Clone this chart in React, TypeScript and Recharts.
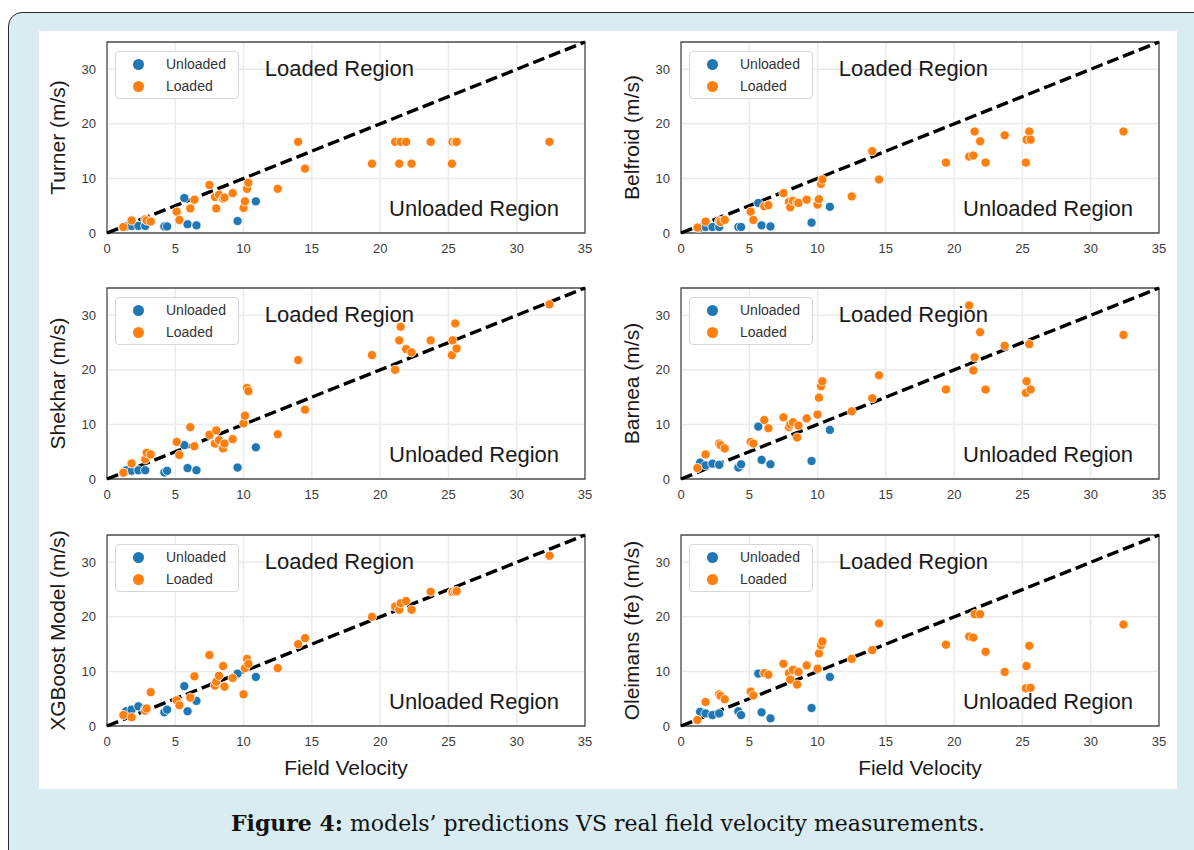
import React from "react";
import {
  CartesianGrid,
  Legend,
  ReferenceArea,
  ReferenceDot,
  ReferenceLine,
  Scatter,
  ScatterChart,
  XAxis,
  YAxis,
} from "recharts";

// field velocity (shared by every model)
const velocityUnloaded = [1.4, 1.8, 2.3, 2.8, 4.2, 4.4, 5.66, 5.9, 6.55, 9.56, 10.9];
const velocityLoaded = [
  1.2, 1.8, 2.8, 2.9, 3.2, 5.1, 5.3, 6.1, 6.4, 7.5, 7.9, 8.0, 8.2, 8.5, 8.6, 9.2, 10.0, 10.1, 10.25, 10.35,
  12.5, 14.0, 14.5, 19.4, 21.1, 21.4, 21.5, 21.9, 22.3, 23.7, 25.25, 25.3, 25.5, 25.6, 32.4,
];

// model predictions
const turnerUnloaded = [1.2, 1.3, 1.3, 1.3, 1.2, 1.2, 6.4, 1.6, 1.4, 2.2, 5.8];
const turnerLoaded = [
  1.1, 2.3, 2.5, 2.3, 2.1, 3.9, 2.4, 4.5, 6.1, 8.8, 6.6, 4.5, 7.0, 6.3, 6.5, 7.3, 4.6, 5.8, 8.1, 9.2,
  8.1, 16.7, 11.8, 12.7, 16.7, 12.7, 16.7, 16.7, 12.7, 16.7, 12.7, 16.7, 16.7, 16.7, 16.7,
];
const belfroidUnloaded = [1.0, 1.1, 1.1, 1.1, 1.1, 1.1, 5.5, 1.4, 1.2, 1.9, 4.8];
const belfroidLoaded = [
  1.0, 2.1, 2.2, 2.0, 2.4, 3.9, 2.4, 4.9, 5.1, 7.3, 5.7, 4.7, 5.9, 5.6, 5.5, 6.1, 5.2, 6.2, 9.0, 9.8,
  6.7, 15.0, 9.8, 12.9, 14.0, 14.2, 18.6, 16.8, 12.9, 17.9, 12.9, 17.1, 18.6, 17.1, 18.6,
];
const shekharUnloaded = [1.6, 1.5, 1.6, 1.6, 1.2, 1.5, 6.2, 2.0, 1.6, 2.1, 5.8];
const shekharLoaded = [
  1.15, 2.85, 3.6, 4.8, 4.5, 6.8, 4.4, 9.5, 6.0, 8.1, 6.5, 8.9, 7.1, 5.6, 6.5, 7.3, 10.2, 11.6, 16.7, 16.1,
  8.2, 21.8, 12.7, 22.7, 20.0, 25.4, 27.9, 23.8, 23.2, 25.4, 22.7, 25.4, 28.5, 23.9, 32.0,
];
const barneaUnloaded = [3.0, 2.5, 2.8, 2.6, 2.1, 2.7, 9.6, 3.5, 2.7, 3.3, 9.0];
const barneaLoaded = [
  2.0, 4.5, 6.5, 6.2, 5.6, 6.8, 6.5, 10.8, 9.3, 11.3, 9.5, 10.0, 10.4, 7.6, 9.8, 11.1, 11.8, 14.9, 17.0, 17.9,
  12.4, 14.8, 19.0, 16.4, 31.8, 19.9, 22.3, 26.9, 16.4, 24.4, 15.8, 17.9, 24.7, 16.4, 26.4,
];
const xgbUnloaded = [2.7, 3.0, 3.6, 3.2, 2.5, 3.0, 7.3, 2.7, 4.6, 9.6, 9.0];
const xgbLoaded = [
  2.0, 1.6, 2.8, 3.2, 6.2, 4.7, 3.8, 5.2, 9.1, 13.0, 7.4, 8.1, 9.2, 11.0, 7.2, 8.8, 5.8, 10.6, 12.3, 11.4,
  10.6, 15.0, 16.1, 20.0, 21.9, 21.3, 22.5, 22.9, 21.3, 24.6, 24.5, 24.6, 24.6, 24.7, 31.2,
];
const oleimansUnloaded = [2.6, 2.3, 2.0, 2.3, 2.7, 2.0, 9.6, 2.5, 1.4, 3.3, 9.0];
const oleimansLoaded = [
  1.1, 4.4, 5.8, 5.5, 4.9, 6.3, 5.6, 9.7, 9.4, 11.4, 9.7, 8.5, 10.3, 7.6, 9.9, 11.1, 10.5, 13.3, 14.8, 15.5,
  12.3, 13.9, 18.8, 14.9, 16.4, 16.2, 20.5, 20.5, 13.6, 9.9, 6.9, 11.0, 14.7, 7.0, 18.6,
];

const xTicks = [0, 5, 10, 15, 20, 25, 30, 35];
const yTicks = [0, 10, 20, 30];
const legendOrder = ["Unloaded", "Loaded"];

const BLUE = "#1f77b4";
const ORANGE = "#ff7f0e";
const SANS = "'Liberation Sans', Arial, sans-serif";

const toPoints = (xs: number[], ys: number[]) => xs.map((x, i) => ({ x, y: ys[i] }));

const panels = [
  { title: "Turner (m/s)", unloaded: turnerUnloaded, loaded: turnerLoaded, left: 107, top: 42, bottom: false },
  { title: "Belfroid (m/s)", unloaded: belfroidUnloaded, loaded: belfroidLoaded, left: 681, top: 42, bottom: false },
  { title: "Shekhar (m/s)", unloaded: shekharUnloaded, loaded: shekharLoaded, left: 107, top: 288, bottom: false },
  { title: "Barnea (m/s)", unloaded: barneaUnloaded, loaded: barneaLoaded, left: 681, top: 288, bottom: false },
  { title: "XGBoost Model (m/s)", unloaded: xgbUnloaded, loaded: xgbLoaded, left: 107, top: 535, bottom: true },
  { title: "Oleimans (fe) (m/s)", unloaded: oleimansUnloaded, loaded: oleimansLoaded, left: 681, top: 535, bottom: true },
];

const PLOT_W = 478;
const PLOT_H = 191;
const PAD_L = 70;
const PAD_T = 10;

const dot = (color: string) => (p: any) => (
  <circle cx={p.cx} cy={p.cy} r={4.6} fill={color} stroke="#fff" strokeWidth={0.8} />
);

const YTitle = ({ viewBox, text }: any) => {
  const x = viewBox.x + 20;
  const y = viewBox.y + viewBox.height / 2;
  return (
    <text x={x} y={y} transform={`rotate(-90, ${x}, ${y})`} textAnchor="middle" dominantBaseline="central"
      fontFamily={SANS} fontSize={21} fill="#1a1a1a">
      {text}
    </text>
  );
};

const XTitle = ({ viewBox }: any) => (
  <text x={viewBox.x + viewBox.width / 2} y={viewBox.y + 41} textAnchor="middle" dominantBaseline="central"
    fontFamily={SANS} fontSize={21} fill="#1a1a1a">
    Field Velocity
  </text>
);

const regionText = (text: string) => (p: any) => (
  <text x={p.viewBox.x} y={p.viewBox.y} dominantBaseline="central" fontFamily={SANS} fontSize={22} fill="#1a1a1a">
    {text}
  </text>
);

const LegendBox = ({ payload }: any) => {
  const items = [...(payload || [])].sort(
    (a: any, b: any) => legendOrder.indexOf(a.value) - legendOrder.indexOf(b.value)
  );
  return (
    <div style={{ position: "relative", width: 124, height: 48, boxSizing: "border-box", border: "1px solid #d6d6d6",
      borderRadius: 4, background: "#fff" }}>
      {items.map((e: any, i: number) => (
        <div key={i} style={{ position: "absolute", left: 0, top: 12 + i * 22 - 10, height: 20, width: 124 }}>
          <span style={{ position: "absolute", left: 17, top: 4.5, width: 11, height: 11, borderRadius: "50%",
            background: e.color }} />
          <span style={{ position: "absolute", left: 50, top: 0, lineHeight: "20px", fontFamily: SANS, fontSize: 14,
            color: "#333" }}>{e.value}</span>
        </div>
      ))}
    </div>
  );
};

function Panel({ p }: { p: (typeof panels)[number] }) {
  const xh = p.bottom ? 62 : 45;
  return (
    <div style={{ position: "absolute", left: p.left - PAD_L, top: p.top - PAD_T }}>
      <ScatterChart width={PAD_L + PLOT_W + 10} height={PAD_T + PLOT_H + xh}
        margin={{ top: PAD_T, right: 10, left: 0, bottom: 0 }}>
        <CartesianGrid stroke="#ebebeb" strokeWidth={1.5} />
        <XAxis type="number" dataKey="x" domain={[0, 35]} ticks={xTicks} height={xh} axisLine={false}
          tickLine={false} tickMargin={5} interval={0} allowDataOverflow
          tick={{ fontSize: 13, fill: "#3a3a3a", fontFamily: SANS }}
          label={p.bottom ? <XTitle /> : undefined} />
        <YAxis type="number" dataKey="y" domain={[0, 35]} ticks={yTicks} width={PAD_L} axisLine={false}
          tickLine={false} tickMargin={5} interval={0} allowDataOverflow
          tick={{ fontSize: 13, fill: "#3a3a3a", fontFamily: SANS }}
          label={<YTitle text={p.title} />} />
        <ReferenceArea x1={0} x2={35} y1={0} y2={35} fill="none" stroke="#4d4d4d" strokeWidth={1.3}
          ifOverflow="visible" />
        <Scatter name="Unloaded" data={toPoints(velocityUnloaded, p.unloaded)} fill={BLUE}
          shape={dot(BLUE)} isAnimationActive={false} />
        <Scatter name="Loaded" data={toPoints(velocityLoaded, p.loaded)} fill={ORANGE}
          shape={dot(ORANGE)} isAnimationActive={false} />
        <ReferenceLine segment={[{ x: 0, y: 0 }, { x: 35, y: 35 }]} stroke="#000" strokeWidth={3.4}
          strokeDasharray="12 5" ifOverflow="visible" />
        <ReferenceDot x={11.55} y={30.2} r={0} fill="none" stroke="none" label={regionText("Loaded Region")} />
        <ReferenceDot x={20.65} y={4.4} r={0} fill="none" stroke="none" label={regionText("Unloaded Region")} />
        <Legend layout="vertical" align="center" verticalAlign="middle" content={<LegendBox />}
          wrapperStyle={{ left: 78, top: 19, width: 124, height: 48 }} />
      </ScatterChart>
    </div>
  );
}

export default function App() {
  return (
    <div style={{ position: "relative", width: 1194, height: 850, overflow: "hidden", background: "#fff" }}>
      <style>{"body{margin:0;overflow:hidden}"}</style>
      <div style={{ position: "absolute", left: 8, top: 12, width: 1220, height: 880, boxSizing: "border-box",
        border: "1.5px solid #2a2a2a", borderRadius: 14, background: "#d8ecf1" }} />
      <div style={{ position: "absolute", left: 39, top: 31, width: 1138, height: 758, background: "#fff" }} />
      {panels.map((p, i) => (
        <Panel key={i} p={p} />
      ))}
      <div style={{ position: "absolute", left: 39, width: 1138, top: 808, textAlign: "center",
        fontFamily: "'DejaVu Serif', serif", fontSize: 22, color: "#111", lineHeight: "30px" }}>
        <b>Figure 4:</b> models’ predictions VS real field velocity measurements.
      </div>
    </div>
  );
}
